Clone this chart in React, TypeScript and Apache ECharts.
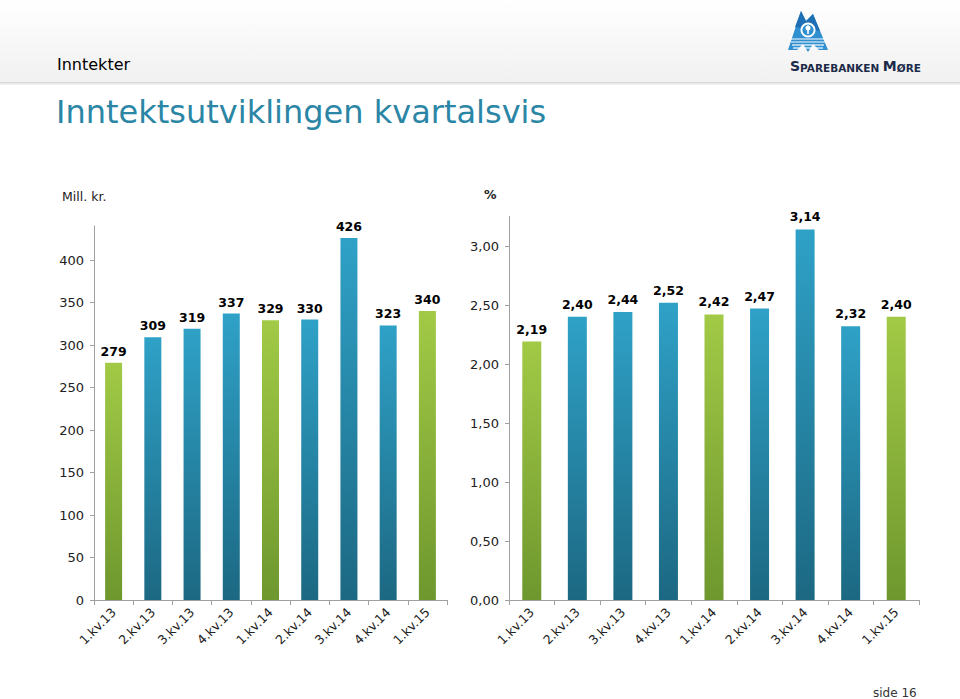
import React, { useEffect, useRef } from "react";
import * as echarts from "echarts";

const categories = ["1.kv.13", "2.kv.13", "3.kv.13", "4.kv.13", "1.kv.14", "2.kv.14", "3.kv.14", "4.kv.14", "1.kv.15"];
const incomeValues = [279, 309, 319, 337, 329, 330, 426, 323, 340];
const marginValues = [2.19, 2.4, 2.44, 2.52, 2.42, 2.47, 3.14, 2.32, 2.4];
const incomeTicks = [0, 50, 100, 150, 200, 250, 300, 350, 400];
const marginTicks = [0, 0.5, 1, 1.5, 2, 2.5, 3];

const FONT = "DejaVu Sans, Verdana, sans-serif";

const blueGrad = () =>
  new echarts.graphic.LinearGradient(0, 0, 0, 1, [
    { offset: 0, color: "#2FA1C7" },
    { offset: 1, color: "#1C6882" },
  ]);
const greenGrad = () =>
  new echarts.graphic.LinearGradient(0, 0, 0, 1, [
    { offset: 0, color: "#A2CA46" },
    { offset: 1, color: "#6E972E" },
  ]);

const isFirstQuarter = (c: string) => c.startsWith("1.");

const comma = (v: number, d: number) => v.toFixed(d).replace(".", ",");

export default function App() {
  const ref = useRef<HTMLDivElement>(null);
  useEffect(() => {
    if (!ref.current) return;
    const chart = echarts.init(ref.current, null, { renderer: "svg" });

    const axisLineStyle = { color: "#A0A0A0", width: 1 };

    const makeData = (vals: number[]) =>
      vals.map((v, i) => ({
        value: v,
        itemStyle: { color: isFirstQuarter(categories[i]) ? greenGrad() : blueGrad() },
      }));

    const xAxisCommon = {
      type: "category" as const,
      data: categories,
      boundaryGap: true,
      axisLine: { lineStyle: axisLineStyle },
      axisTick: { show: true, length: 5, lineStyle: axisLineStyle, alignWithLabel: false },
      axisLabel: { rotate: 45, fontSize: 12.5, color: "#222", fontFamily: FONT, margin: 10, interval: 0 },
      splitLine: { show: false },
    };

    const yLabel = {
      fontSize: 13,
      color: "#222",
      fontFamily: FONT,
      margin: 10,
    };

    chart.setOption({
      animation: false,
      backgroundColor: "#ffffff",
      grid: [
        { left: 94, top: 226, width: 353, height: 374 },
        { left: 509, top: 216.5, width: 410, height: 383.5 },
      ],
      xAxis: [
        { ...xAxisCommon, gridIndex: 0 },
        { ...xAxisCommon, gridIndex: 1 },
      ],
      yAxis: [
        {
          type: "value",
          gridIndex: 0,
          min: 0,
          max: 440,
          interval: 50,
          axisLine: { show: true, lineStyle: axisLineStyle },
          axisTick: { show: true, length: 4, lineStyle: axisLineStyle, customValues: incomeTicks },
          splitLine: { show: false },
          axisLabel: {
            ...yLabel,
            customValues: incomeTicks,
            formatter: (v: number) => (incomeTicks.includes(v) ? String(v) : ""),
          },
        },
        {
          type: "value",
          gridIndex: 1,
          min: 0,
          max: 3.25,
          interval: 0.5,
          axisLine: { show: true, lineStyle: axisLineStyle },
          axisTick: { show: true, length: 4, lineStyle: axisLineStyle, customValues: marginTicks },
          splitLine: { show: false },
          axisLabel: {
            ...yLabel,
            customValues: marginTicks,
            formatter: (v: number) => (marginTicks.includes(v) ? comma(v, 2) : ""),
          },
        },
      ],
      series: [
        {
          type: "bar",
          xAxisIndex: 0,
          yAxisIndex: 0,
          data: makeData(incomeValues),
          barWidth: 17,
          label: {
            show: true,
            position: "top",
            distance: 5,
            fontSize: 12.5,
            fontWeight: "bold",
            color: "#000",
            fontFamily: FONT,
            formatter: (p: any) => String(p.value),
          },
        },
        {
          type: "bar",
          xAxisIndex: 1,
          yAxisIndex: 1,
          data: makeData(marginValues),
          barWidth: 19,
          label: {
            show: true,
            position: "top",
            distance: 6,
            fontSize: 12.5,
            fontWeight: "bold",
            color: "#000",
            fontFamily: FONT,
            formatter: (p: any) => comma(p.value, 2),
          },
        },
      ],
      graphic: [
        {
          type: "rect",
          z: -10,
          shape: { x: 0, y: 0, width: 960, height: 82 },
          style: {
            fill: new echarts.graphic.LinearGradient(0, 0, 0, 1, [
              { offset: 0, color: "#ffffff" },
              { offset: 1, color: "#f1f1f1" },
            ]),
          },
        },
        {
          type: "rect",
          z: -9,
          shape: { x: 0, y: 82, width: 960, height: 3 },
          style: {
            fill: new echarts.graphic.LinearGradient(0, 0, 0, 1, [
              { offset: 0, color: "#d6d6d6" },
              { offset: 1, color: "#f7f7f7" },
            ]),
          },
        },
        {
          type: "text",
          x: 57,
          y: 64,
          style: { text: "Inntekter", fontSize: 16, fontFamily: FONT, fill: "#000", verticalAlign: "middle" },
        },
        {
          type: "text",
          x: 56,
          y: 112,
          style: {
            text: "Inntektsutviklingen kvartalsvis",
            fontSize: 32,
            fontFamily: FONT,
            fill: "#2B86A6",
            verticalAlign: "middle",
          },
        },
        {
          type: "text",
          x: 62,
          y: 196,
          style: { text: "Mill. kr.", fontSize: 12.5, fontFamily: FONT, fill: "#222", verticalAlign: "middle" },
        },
        {
          type: "text",
          x: 484,
          y: 194,
          style: { text: "%", fontSize: 12.5, fontWeight: "bold", fontFamily: FONT, fill: "#222", verticalAlign: "middle" },
        },
        {
          type: "text",
          x: 873,
          y: 693,
          style: { text: "side 16", fontSize: 12, fontFamily: FONT, fill: "#333", verticalAlign: "middle" },
        },
        // logo
        {
          type: "group",
          children: [
            {
              type: "polygon",
              shape: {
                points: [
                  [788, 50], [801, 11], [806, 21], [813, 14], [828, 50], [819, 50], [813, 44], [808, 52], [803, 44], [797, 50],
                ],
              },
              style: { fill: "#2F8FD0" },
            },
            {
              type: "polygon",
              shape: { points: [[795, 27], [801, 11], [806, 21], [813, 14], [820, 31]] },
              style: { fill: "#1F6FB5" },
            },
            { type: "circle", shape: { cx: 808, cy: 30, r: 7.5 }, style: { fill: "#ffffff" } },
            { type: "circle", shape: { cx: 808, cy: 30, r: 5.6 }, style: { fill: "#2F8FD0" } },
            { type: "rect", shape: { x: 807.2, y: 28, width: 1.6, height: 6 }, style: { fill: "#ffffff" } },
            { type: "circle", shape: { cx: 808, cy: 28, r: 2.6 }, style: { fill: "#ffffff" } },
            { type: "line", shape: { x1: 790, y1: 39, x2: 826, y2: 39 }, style: { stroke: "#ffffff", lineWidth: 1.2 } },
            { type: "line", shape: { x1: 791, y1: 42, x2: 825, y2: 42 }, style: { stroke: "#ffffff", lineWidth: 1.2 } },
            { type: "line", shape: { x1: 792, y1: 45, x2: 824, y2: 45 }, style: { stroke: "#ffffff", lineWidth: 1.2 } },
            { type: "line", shape: { x1: 793, y1: 48, x2: 823, y2: 48 }, style: { stroke: "#ffffff", lineWidth: 1.2 } },
            {
              type: "text",
              x: 790,
              y: 66,
              style: {
                text: "{b|S}{s|PAREBANKEN }{b|M}{s|ØRE}",
                verticalAlign: "middle",
                rich: {
                  b: { fontSize: 14, fontWeight: "bold", fontFamily: FONT, fill: "#1B2A48", verticalAlign: "bottom" },
                  s: { fontSize: 10.5, fontWeight: "bold", fontFamily: FONT, fill: "#1B2A48", verticalAlign: "bottom" },
                },
              },
            },
          ],
        },
      ],
    });

    return () => chart.dispose();
  }, []);

  return (
    <div
      ref={ref}
      style={{ position: "fixed", left: 0, top: 0, width: 960, height: 699 }}
    />
  );
}
